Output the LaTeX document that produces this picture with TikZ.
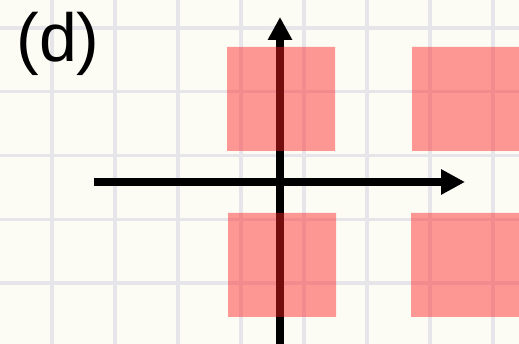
\documentclass[tikz,border=0pt]{standalone}
\usepackage{fontspec}
\setmainfont{Liberation Sans}
\usetikzlibrary{arrows.meta}
\definecolor{gpaper}{RGB}{252,252,245}
\definecolor{ggrid}{RGB}{230,230,234}
\definecolor{gsq}{RGB}{255,30,30}

\begin{document}
\begin{tikzpicture}[x=1pt,y=-1pt,line width=8pt]
  \fill[gpaper] (0,0) rectangle (519,344);
  \useasboundingbox (0,0) rectangle (519,344);
  % grid
  \foreach \k in {0,...,7}
    \draw[ggrid,line width=3.3pt] (52+63*\k,0) -- (52+63*\k,344);
  \foreach \k in {0,...,4}
    \draw[ggrid,line width=3.3pt] (0,28+63.75*\k) -- (519,28+63.75*\k);
  % axes
  \coordinate (W) at (94,182);
  \coordinate (E) at (465,182);
  \coordinate (S) at (280,344);
  \coordinate (N) at (280,17);
  \draw[-{Triangle[length=24pt,width=24pt]}] (W) -- (E);
  \draw[-{Triangle[length=23pt,width=23pt]}] (S) -- (N);
  % squares
  \fill[gsq,fill opacity=0.45] (227,47) rectangle (335,151)
    (412,47) rectangle (519,151)
    (228,213) rectangle (336,317)
    (411,213) rectangle (519,317);
  \node[anchor=base west,inner sep=0pt,font=\fontsize{68}{72}\selectfont] (lbl) at (12.5,62) {(d)};
\end{tikzpicture}
\end{document}
